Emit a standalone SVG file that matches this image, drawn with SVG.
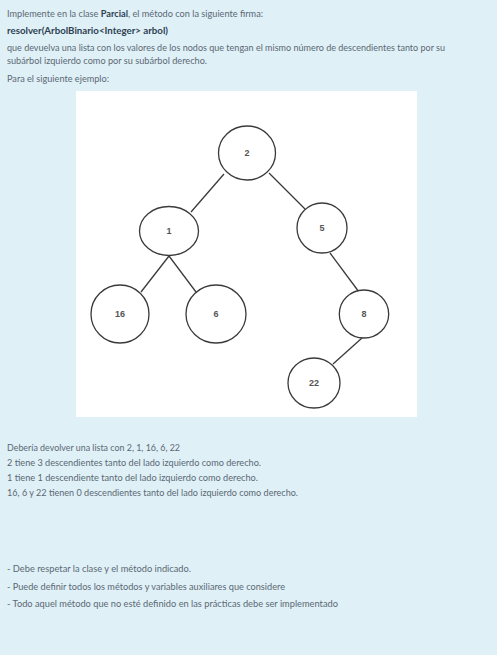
<svg xmlns="http://www.w3.org/2000/svg" width="497" height="655" viewBox="0 0 497 655">
<style>
.t{font-family:Lato,"Open Sans",sans-serif;font-size:8.8px;fill:#5b6873}
.b{font-weight:bold;fill:#2e3f52}
.n{fill:#fff;stroke:#3a3a3a;stroke-width:1.3}
.l{font-family:"Liberation Sans",Arial,sans-serif;font-size:9px;font-weight:bold;fill:#555;text-anchor:middle}
.e{stroke:#3a3a3a;stroke-width:1.3;fill:none}
</style>
<rect x="0" y="0" width="497" height="655" fill="#dff0f7"/>
<g id="text-top">
<text class="t" x="7" y="17" textLength="256" lengthAdjust="spacingAndGlyphs">Implemente en la clase <tspan class="b">Parcial</tspan>, el método con la siguiente firma:</text>
<text class="t b" x="7" y="34" textLength="161" lengthAdjust="spacingAndGlyphs">resolver(ArbolBinario&lt;Integer&gt; arbol)</text>
<text class="t" x="7" y="51" textLength="438" lengthAdjust="spacingAndGlyphs">que devuelva una lista con los valores de los nodos que tengan el mismo número de descendientes tanto por su</text>
<text class="t" x="7" y="64" textLength="200" lengthAdjust="spacingAndGlyphs">subárbol izquierdo como por su subárbol derecho.</text>
<text class="t" x="7" y="82" textLength="102" lengthAdjust="spacingAndGlyphs">Para el siguiente ejemplo:</text>
</g>
<rect x="76" y="91" width="341" height="326" fill="#fff"/>
<g id="connectors">
<line class="e" x1="224" y1="174" x2="191" y2="212"/>
<line class="e" x1="269" y1="173" x2="305" y2="209"/>
<line class="e" x1="169" y1="256" x2="141" y2="292"/>
<line class="e" x1="169" y1="256" x2="196" y2="292"/>
<line class="e" x1="330" y1="253" x2="359" y2="292"/>
<line class="e" x1="362" y1="338" x2="333" y2="364"/>
</g>
<g id="node-2"><ellipse class="n" cx="247" cy="153" rx="28.5" ry="27"/><text class="l" x="247" y="156">2</text></g>
<g id="node-1"><ellipse class="n" cx="169" cy="231" rx="29.5" ry="24.5"/><text class="l" x="169" y="234">1</text></g>
<g id="node-5"><ellipse class="n" cx="322" cy="228" rx="25" ry="25"/><text class="l" x="322" y="231">5</text></g>
<g id="node-16"><ellipse class="n" cx="120" cy="314" rx="29" ry="29"/><text class="l" x="120" y="317">16</text></g>
<g id="node-6"><ellipse class="n" cx="216" cy="314" rx="30" ry="29"/><text class="l" x="216" y="317">6</text></g>
<g id="node-8"><ellipse class="n" cx="364" cy="314" rx="24.7" ry="24"/><text class="l" x="364" y="317">8</text></g>
<g id="node-22"><ellipse class="n" cx="314" cy="383" rx="26" ry="25"/><text class="l" x="314" y="386">22</text></g>
<g id="text-bottom">
<text class="t" x="7" y="451" textLength="173" lengthAdjust="spacingAndGlyphs">Debería devolver una lista con 2, 1, 16, 6, 22</text>
<text class="t" x="7" y="466" textLength="254" lengthAdjust="spacingAndGlyphs">2 tiene 3 descendientes tanto del lado izquierdo como derecho.</text>
<text class="t" x="7" y="481" textLength="251" lengthAdjust="spacingAndGlyphs">1 tiene 1 descendiente tanto del lado izquierdo como derecho.</text>
<text class="t" x="7" y="496" textLength="291" lengthAdjust="spacingAndGlyphs">16, 6 y 22 tienen 0 descendientes tanto del lado izquierdo como derecho.</text>
<text class="t" x="7" y="572" textLength="184" lengthAdjust="spacingAndGlyphs">- Debe respetar la clase y el método indicado.</text>
<text class="t" x="7" y="590" textLength="278" lengthAdjust="spacingAndGlyphs">- Puede definir todos los métodos y variables auxiliares que considere</text>
<text class="t" x="7" y="607" textLength="331" lengthAdjust="spacingAndGlyphs">- Todo aquel método que no esté definido en las prácticas debe ser implementado</text>
</g>
</svg>
